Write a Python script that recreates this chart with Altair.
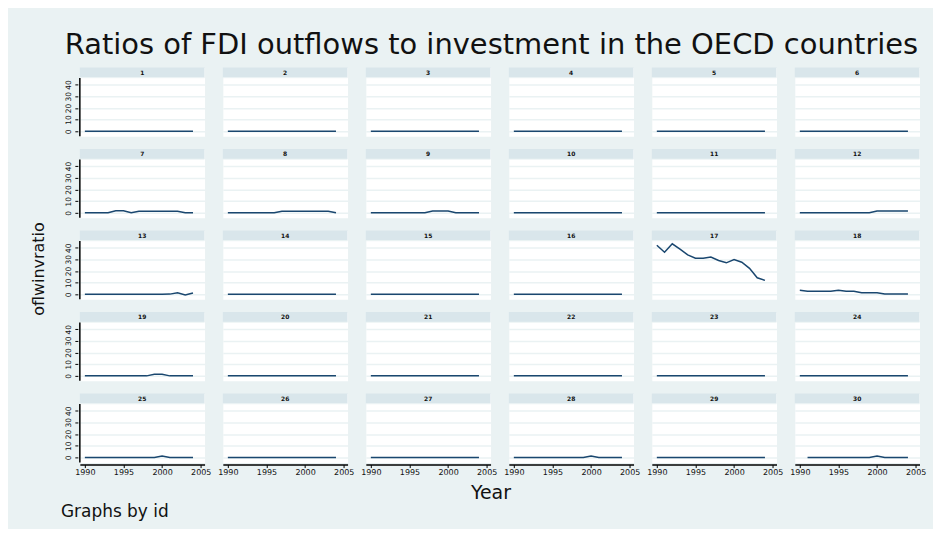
import altair as alt
import pandas as pd

# ---------------- data ----------------
title_text = "Ratios of FDI outflows to investment in the OECD countries"
y_title = "oflwinvratio"
x_title = "Year"
note_text = "Graphs by id"

years = [1990, 1991, 1992, 1993, 1994, 1995, 1996, 1997, 1998, 1999, 2000, 2001, 2002, 2003, 2004]
ids = list(range(1, 31))
y_ticks = [0, 10, 20, 30, 40]
x_ticks = [1990, 1995, 2000, 2005]

zeros = [0, 0, 0, 0, 0, 0, 0, 0, 0, 0, 0, 0, 0, 0, 0]
p7 = [0, 0, 0, 0, 1.8, 1.8, 0, 1.3, 1.3, 1.3, 1.3, 1.3, 1.3, 0, 0]
p8 = [0, 0, 0, 0, 0, 0, 0, 1.3, 1.3, 1.3, 1.3, 1.3, 1.3, 1.3, 0]
p9 = [0, 0, 0, 0, 0, 0, 0, 0, 1.5, 1.5, 1.5, 0, 0, 0, 0]
p12 = [0, 0, 0, 0, 0, 0, 0, 0, 0, 0, 1.5, 1.5, 1.5, 1.5, 1.5]
p13 = [0, 0, 0, 0, 0, 0, 0, 0, 0, 0, 0, 0.2, 1.4, -0.6, 1.2]
p17 = [42, 36, 43.3, 38.7, 33.8, 31, 31, 32, 29, 27, 29.8, 27.5, 22.3, 14.2, 12]
p18 = [3.5, 2.7, 2.7, 2.7, 2.7, 3.5, 2.7, 2.7, 1.3, 1.3, 1.3, 0.3, 0.3, 0.3, 0.3]
p19 = [0, 0, 0, 0, 0, 0, 0, 0, 0, 1.3, 1.3, 0, 0, 0, 0]
p25 = [0, 0, 0, 0, 0, 0, 0, 0, 0, 0, 1.2, 0, 0, 0, 0]
p28 = [0, 0, 0, 0, 0, 0, 0, 0, 0, 0, 1.2, 0, 0, 0, 0]
p30 = [None, 0, 0, 0, 0, 0, 0, 0, 0, 0, 1.2, 0, 0, 0, 0]

series = {
    1: zeros, 2: zeros, 3: zeros, 4: zeros, 5: zeros, 6: zeros,
    7: p7, 8: p8, 9: p9, 10: zeros, 11: zeros, 12: p12,
    13: p13, 14: zeros, 15: zeros, 16: zeros, 17: p17, 18: p18,
    19: p19, 20: zeros, 21: zeros, 22: zeros, 23: zeros, 24: zeros,
    25: p25, 26: zeros, 27: zeros, 28: p28, 29: zeros, 30: p30,
}

rows = []
for i in ids:
    first = True
    for yr, v in zip(years, series[i]):
        if v is None:
            continue
        rows.append({"id": i, "year": yr, "value": v, "first": first})
        first = False
df = pd.DataFrame(rows)

# ---------------- style ----------------
BG = "#EAF2F3"
STRIP = "#D9E6EB"
NAVY = "#1A476F"
TXT = "#111111"
FONT = "DejaVu Sans"

W = 125
STRIP_H = 10
PLOT_H = 58.5
H = STRIP_H + 0.5 + PLOT_H

strip = alt.Chart().transform_filter("datum.first").mark_rect(color=STRIP).encode(
    x=alt.value(0), x2=alt.value(W), y=alt.value(0), y2=alt.value(STRIP_H)
)
gap = alt.Chart().transform_filter("datum.first").mark_rule(color=BG, strokeWidth=1).encode(
    x=alt.value(0), x2=alt.value(W), y=alt.value(STRIP_H + 0.25)
)
label = alt.Chart().transform_filter("datum.first").mark_text(
    fontSize=6, font=FONT, color=TXT, baseline="middle", align="center", fontWeight="bold"
).encode(x=alt.value(W / 2), y=alt.value(STRIP_H / 2 + 0.5), text="id:N")

line = alt.Chart().mark_line(color=NAVY, strokeWidth=1.5).encode(
    x=alt.X(
        "year:Q",
        scale=alt.Scale(domain=[1989.35, 2005.5], nice=False, zero=False),
        axis=alt.Axis(
            values=x_ticks, format="d", title=None, grid=False, domain=True,
            domainColor="black", domainWidth=1.5, tickSize=3, tickColor="black",
            labelFontSize=8, labelPadding=1, labelColor=TXT, labelFont=FONT,
            labelFlush=False,
        ),
    ),
    y=alt.Y(
        "value:Q",
        scale=alt.Scale(domain=[-4.27, 54.7], nice=False, zero=False),
        axis=alt.Axis(
            values=y_ticks, title=None, grid=True, gridColor=BG, gridWidth=1.5,
            domain=False, tickSize=3, tickColor="black", labelAngle=270,
            labelAlign="center", labelBaseline="bottom", labelFontSize=7.5,
            labelPadding=2, labelColor=TXT, labelFont=FONT,
        ),
    ),
)
yrule = alt.Chart().transform_filter("datum.first && datum.id % 6 == 1").mark_rule(
    color="black", strokeWidth=1.5
).encode(x=alt.value(0), y=alt.value(STRIP_H + 0.5), y2=alt.value(H))

panels = alt.layer(strip, gap, label, line, yrule, data=df).properties(width=W, height=H).facet(
    facet=alt.Facet(
        "id:O", title=None,
        header=alt.Header(labels=False, labelExpr="''", labelFontSize=0, labelPadding=0, titlePadding=0),
    ),
    columns=6,
    spacing={"row": 9.7, "column": 16.3},
)

ytitle = alt.Chart(pd.DataFrame({"t": [y_title]})).mark_text(
    angle=270, fontSize=16, font=FONT, color=TXT, align="center", baseline="middle"
).encode(text="t:N", x=alt.value(30), y=alt.value(202)).properties(
    width=55, height=395, view=alt.ViewBackground(fill=BG, stroke="transparent")
)

xt = alt.Chart(pd.DataFrame({"t": [x_title]})).mark_text(
    fontSize=19, font=FONT, color=TXT, align="center", baseline="middle"
).encode(text="t:N", x=alt.value(483), y=alt.value(15))
nt = alt.Chart(pd.DataFrame({"t": [note_text]})).mark_text(
    fontSize=17, font=FONT, color=TXT, align="left", baseline="middle"
).encode(text="t:N", x=alt.value(52), y=alt.value(35))
footer = alt.layer(xt, nt).properties(
    width=925, height=50, view=alt.ViewBackground(fill=BG, stroke="transparent")
)

chart = alt.vconcat(
    alt.hconcat(ytitle, panels, spacing=0), footer, spacing=0
).properties(
    title=alt.TitleParams(
        title_text, fontSize=29, font=FONT, color=TXT, anchor="middle",
        dx=21, offset=7, fontWeight="normal",
    ),
    background=BG,
    padding={"top": 22, "left": 0, "right": 0, "bottom": 0},
).configure_view(
    fill="white", stroke="transparent"
).configure_header(
    labels=False, labelPadding=0, titlePadding=0
).configure_headerFacet(
    labels=False, labelPadding=0, titlePadding=0
)

chart.save("out.html", embed_options={"renderer": "svg", "actions": False})
